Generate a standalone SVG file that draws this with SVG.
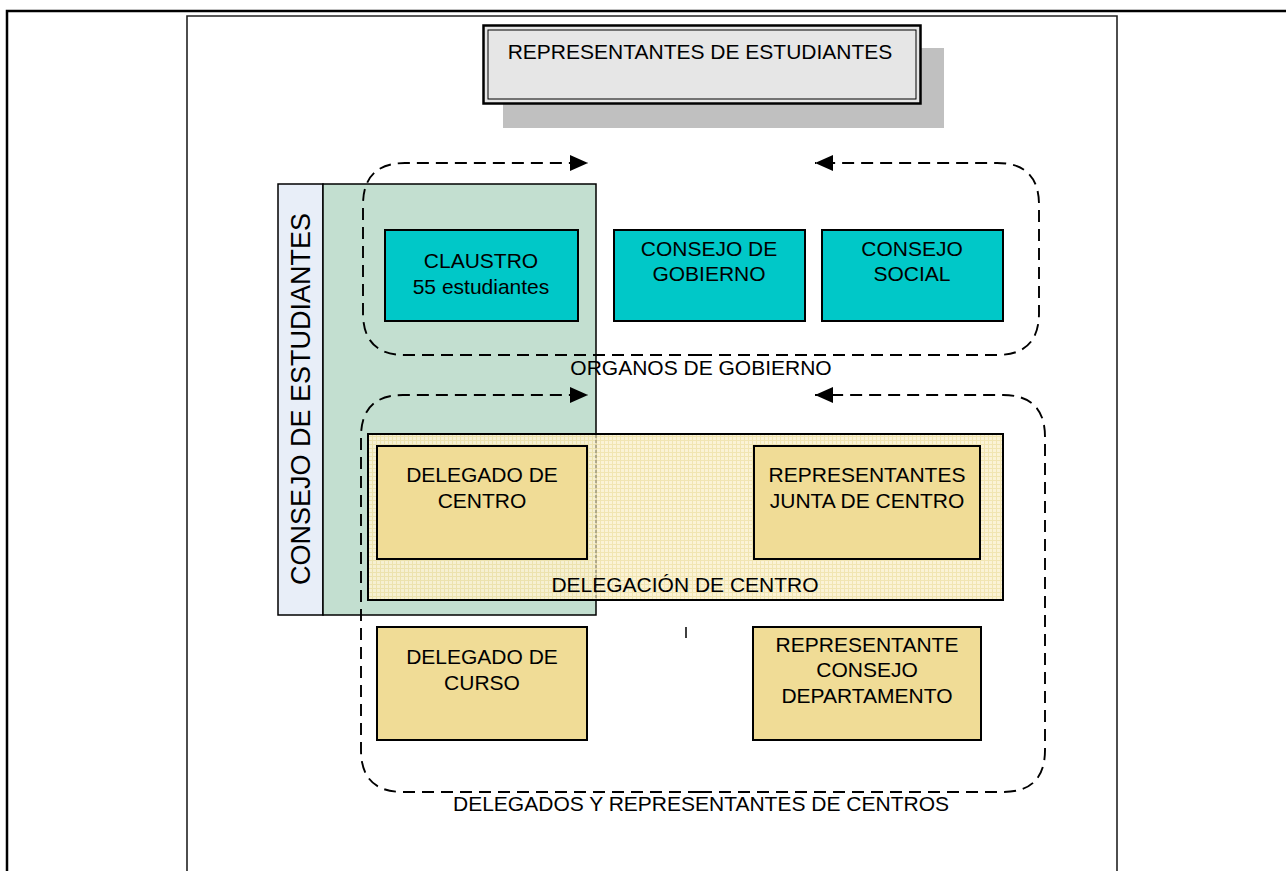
<svg xmlns="http://www.w3.org/2000/svg" width="1286" height="871" viewBox="0 0 1286 871">
<defs>
<style>
text{font-family:"Liberation Sans",Arial,sans-serif;font-size:21px;fill:#000}
.c{text-anchor:middle}
.box{stroke:#000;stroke-width:2}
.teal{fill:#00c8c8}
.khaki{fill:#f0dc96}
.dash{fill:none;stroke:#000;stroke-width:1.9;stroke-dasharray:12 7}
</style>
<pattern id="grid" width="4" height="4" patternUnits="userSpaceOnUse">
<rect width="4" height="4" fill="#fbf2d2"/>
<path d="M0 0.5H4M0.5 0V4" stroke="#f0e2aa" stroke-width="1"/>
</pattern>
<marker id="ah" markerUnits="userSpaceOnUse" markerWidth="20" markerHeight="18" refX="18" refY="8" orient="auto">
<path d="M0 0L18 8L0 16z" fill="#000"/>
</marker>
</defs>
<rect width="1286" height="871" fill="#fff"/>
<g id="frame">
<path d="M7 871V11H1286" fill="none" stroke="#000" stroke-width="2.5"/>
<path d="M187 871V16H1117V871" fill="none" stroke="#222" stroke-width="1.6"/>
</g>
<g id="title">
<rect x="503" y="48" width="441" height="80" fill="#c0c0c0"/>
<rect x="483.5" y="25.5" width="437" height="78" fill="#e6e6e6" stroke="#000" stroke-width="2.5"/>
<rect x="488" y="30" width="428" height="69" fill="none" stroke="#000" stroke-width="1"/>
<text class="c" x="700" y="59">REPRESENTANTES DE ESTUDIANTES</text>
</g>
<g id="consejo-estudiantes">
<rect x="278" y="184" width="45" height="431" fill="#e8eef8" stroke="#000" stroke-width="1.5"/>
<rect x="323" y="184" width="273" height="431" fill="#c3dfd0" stroke="#000" stroke-width="1.5"/>
<text class="c" transform="translate(310,399) rotate(-90)" style="font-size:27px">CONSEJO DE ESTUDIANTES</text>
</g>
<g id="claustro">
<rect class="box teal" x="385" y="230" width="193" height="91"/>
<text class="c" x="481" y="268">CLAUSTRO</text>
<text class="c" x="481" y="294">55 estudiantes</text>
</g>
<g id="consejo-gobierno">
<rect class="box teal" x="614" y="230" width="191" height="91"/>
<text class="c" x="709" y="256">CONSEJO DE</text>
<text class="c" x="709" y="281">GOBIERNO</text>
</g>
<g id="consejo-social">
<rect class="box teal" x="822" y="230" width="181" height="91"/>
<text class="c" x="912" y="256">CONSEJO</text>
<text class="c" x="912" y="281">SOCIAL</text>
</g>
<g id="delegacion-centro">
<rect x="368" y="434" width="635" height="166" fill="url(#grid)" fill-opacity="0.9" stroke="#000" stroke-width="2"/>
<line x1="596" y1="435" x2="596" y2="599" stroke="#a09a80" stroke-width="1.5" stroke-dasharray="3 2"/>
<text class="c" x="685" y="592">DELEGACIÓN DE CENTRO</text>
</g>
<g id="delegado-centro">
<rect class="box khaki" x="377" y="446" width="210" height="113"/>
<text class="c" x="482" y="482">DELEGADO DE</text>
<text class="c" x="482" y="508">CENTRO</text>
</g>
<g id="representantes-junta">
<rect class="box khaki" x="754" y="446" width="226" height="113"/>
<text class="c" x="867" y="482">REPRESENTANTES</text>
<text class="c" x="867" y="508">JUNTA DE CENTRO</text>
</g>
<g id="delegado-curso">
<rect class="box khaki" x="377" y="627" width="210" height="113"/>
<text class="c" x="482" y="664">DELEGADO DE</text>
<text class="c" x="482" y="690">CURSO</text>
</g>
<g id="representante-consejo">
<rect class="box khaki" x="753" y="627" width="228" height="113"/>
<text class="c" x="867" y="652">REPRESENTANTE</text>
<text class="c" x="867" y="677">CONSEJO</text>
<text class="c" x="867" y="703">DEPARTAMENTO</text>
</g>
<line x1="686" y1="627" x2="686" y2="638" stroke="#000" stroke-width="1.5"/>
<g id="connectors">
<path class="dash" d="M700 355H405Q363 355 363 313V205Q363 163 405 163H588" marker-end="url(#ah)"/>
<path class="dash" d="M700 355H997Q1039 355 1039 313V205Q1039 163 997 163H815" marker-end="url(#ah)"/>
<path class="dash" d="M700 792H403Q361 792 361 750V437Q361 395 403 395H588" marker-end="url(#ah)"/>
<path class="dash" d="M700 792H1003Q1045 792 1045 750V437Q1045 395 1003 395H815" marker-end="url(#ah)"/>
</g>
<text class="c" x="701" y="375">ORGANOS DE GOBIERNO</text>
<text class="c" x="701" y="811">DELEGADOS Y REPRESENTANTES DE CENTROS</text>
</svg>
